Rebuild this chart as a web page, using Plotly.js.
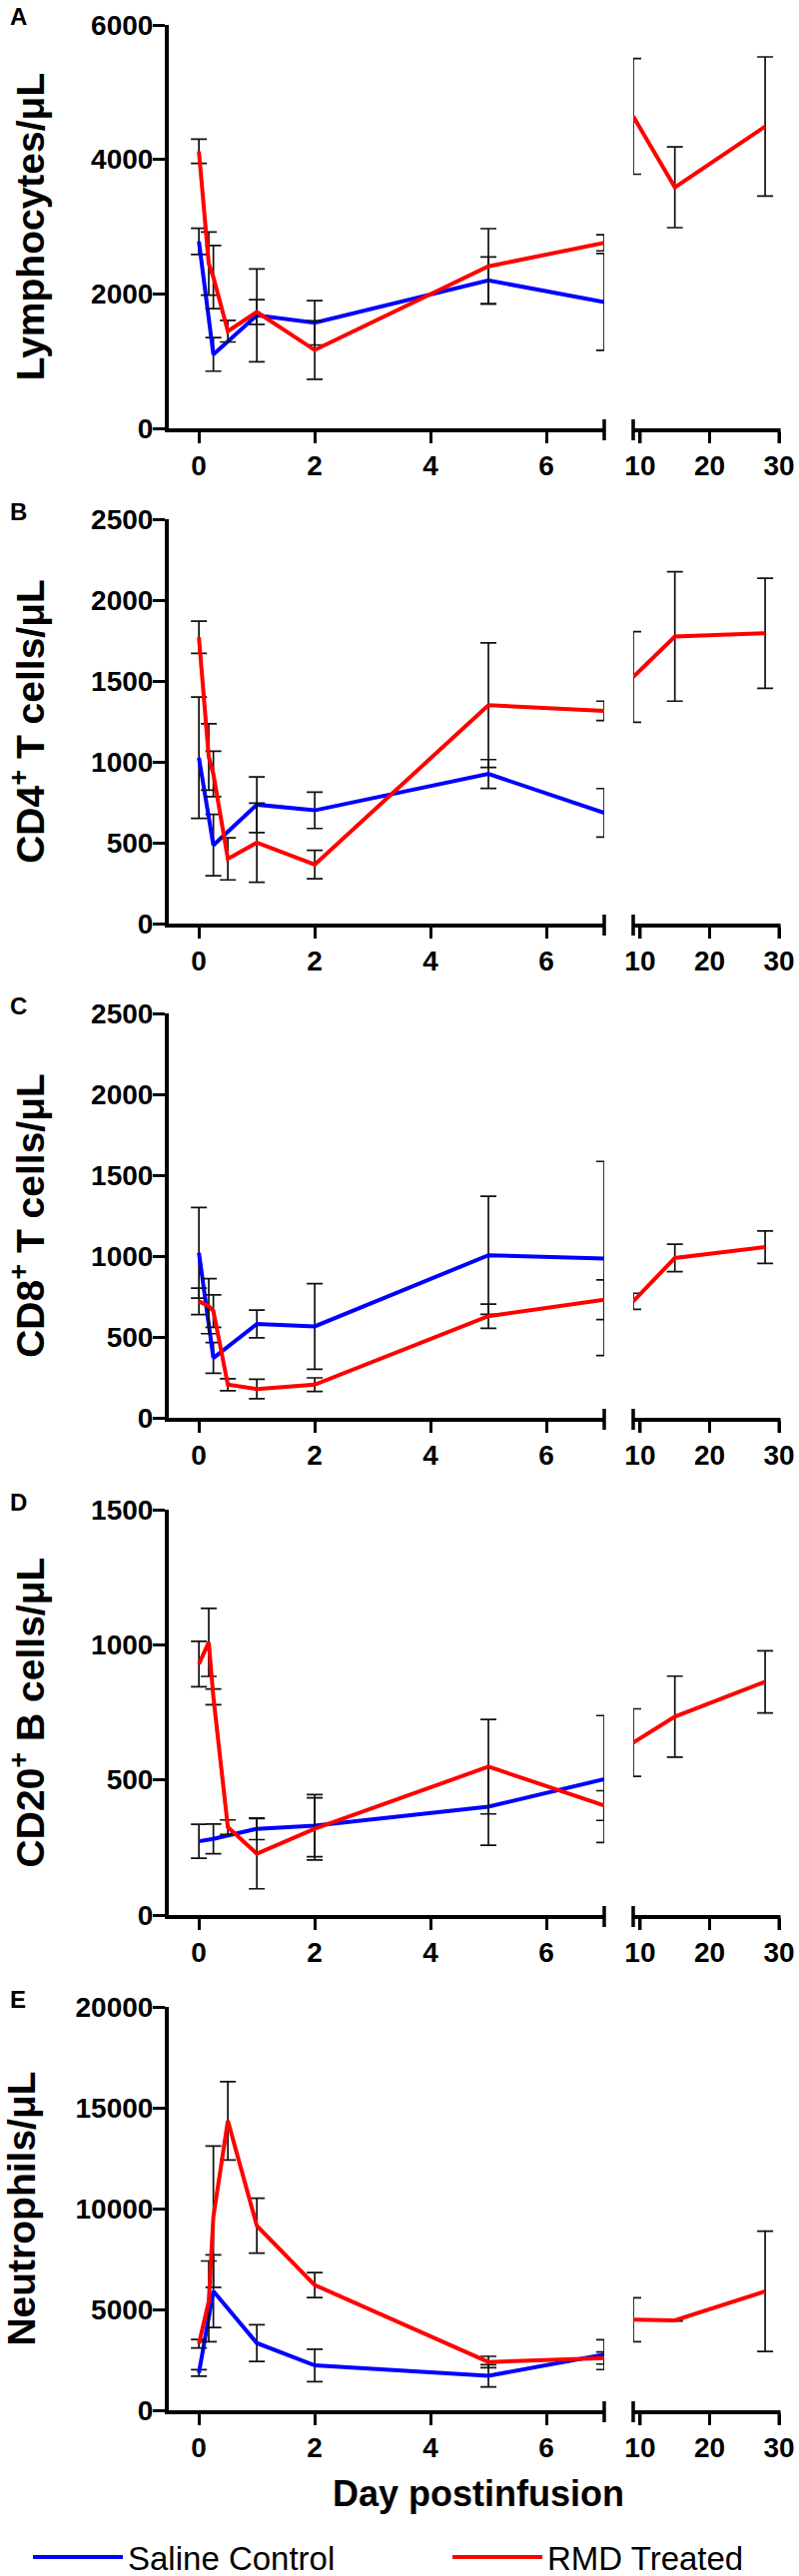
<!DOCTYPE html>
<html>
<head>
<meta charset="utf-8">
<script src="https://cdn.plot.ly/plotly-3.0.1.min.js"></script>
<style>html,body{margin:0;padding:0;background:#fff}</style>
</head>
<body>
<div id="chart" style="width:800px;height:2580px"></div>
<script>
// sampling days (first axis segment 0-7, second segment 9-30)
var daysSaline = [0, 0.25, 1, 2, 5, 7];
var daysRmd = [0, 0.17, 0.25, 0.5, 1, 2, 5, 7];
var daysLate = [9, 15, 28];
var lateTicks = [10, 20, 30];

// A - lymphocytes
var lymphSaline = [2780, 1100, 1680, 1570, 2200, 1880];
var lymphSalineErr = [195, 250, 690, 330, 350, 720];
var lymphRmd = [4120, 2450, 2250, 1445, 1730, 1165, 2410, 2760];
var lymphRmdErr = [180, 470, 470, 160, 185, 435, 560, 120];
var lymphRmdLate = [4640, 3585, 4490];
var lymphRmdLateErr = [860, 600, 1035];

// B - CD4+ T cells
var cd4Saline = [1025, 485, 735, 700, 925, 685];
var cd4SalineErr = [375, 190, 172, 112, 89, 150];
var cd4Rmd = [1770, 1030, 925, 400, 500, 365, 1350, 1315];
var cd4RmdErr = [100, 205, 140, 130, 245, 88, 385, 60];
var cd4RmdLate = [1525, 1775, 1795];
var cd4RmdLateErr = [280, 400, 340];

// C - CD8+ T cells
var cd8Saline = [1020, 370, 580, 565, 1005, 985];
var cd8SalineErr = [280, 95, 86, 265, 365, 600];
var cd8Rmd = [720, 690, 660, 205, 178, 205, 628, 730];
var cd8RmdErr = [82, 170, 100, 37, 60, 42, 75, 123];
var cd8RmdLate = [720, 988, 1055];
var cd8RmdLateErr = [50, 85, 100];

// D - CD20+ B cells
var cd20Saline = [273, 282, 319, 331, 401, 503];
var cd20SalineErr = [63, 55, 40, 115, 143, 235];
var cd20Rmd = [929, 1009, 807, 325, 227, 319, 549, 405];
var cd20RmdErr = [84, 126, 29, 27, 130, 115, 175, 55];
var cd20RmdLate = [638, 734, 863];
var cd20RmdLateErr = [125, 150, 115];

// E - neutrophils
var neutSaline = [1850, 5900, 3330, 2222, 1709, 2757];
var neutSalineErr = [165, 1800, 910, 800, 550, 740];
var neutRmd = [3300, 5400, 9600, 14350, 9150, 6204, 2393, 2590];
var neutRmdErr = [210, 2000, 3500, 1940, 1360, 620, 280, 300];
var neutRmdLate = [4490, 4455, 5896];
var neutRmdLateErr = [1090, 30, 2980];

var panelLetters = ['A', 'B', 'C', 'D', 'E'];
var yTitles = ['Lymphocytes/\u03bcL', 'CD4<sup>+</sup> T cells/\u03bcL', 'CD8<sup>+</sup> T cells/\u03bcL',
               'CD20<sup>+</sup> B cells/\u03bcL', 'Neutrophils/\u03bcL'];
var yMax = [6000, 2500, 2500, 1500, 20000];
var yStep = [2000, 500, 500, 500, 5000];

var salineSeries = [lymphSaline, cd4Saline, cd8Saline, cd20Saline, neutSaline];
var salineErrs = [lymphSalineErr, cd4SalineErr, cd8SalineErr, cd20SalineErr, neutSalineErr];
var rmdSeries = [lymphRmd, cd4Rmd, cd8Rmd, cd20Rmd, neutRmd];
var rmdErrs = [lymphRmdErr, cd4RmdErr, cd8RmdErr, cd20RmdErr, neutRmdErr];
var rmdLateSeries = [lymphRmdLate, cd4RmdLate, cd8RmdLate, cd20RmdLate, neutRmdLate];
var rmdLateErrs = [lymphRmdLateErr, cd4RmdLateErr, cd8RmdLateErr, cd20RmdLateErr, neutRmdLateErr];

var W = 800, H = 2580;
var FONT = 'Liberation Sans, Arial, Helvetica, sans-serif';
var BLUE = '#0000ff';
var RED = '#ff0000';

// pixel layout of the panels
var panelTop = [25, 520, 1015, 1512, 2010];
var panelBottom = [429, 925, 1420, 1918, 2414];
var seg1 = [169, 605];   // days -0.52 .. 7
var seg2 = [634, 780];   // days 9 .. 30
var seg2Range = [9, 30];

function axName(letter, n) { return letter + 'axis' + (n === 1 ? '' : n); }
function axRef(letter, n) { return letter + (n === 1 ? '' : n); }

function errBar(arr)
{
    return {type: 'data', array: arr, visible: true, color: '#111', thickness: 1.7, width: 8};
}

function legendBox(xPx)
{
    return {
        orientation: 'h',
        x: xPx / W,
        xanchor: 'left',
        y: (H - 2561) / H,
        yanchor: 'middle',
        font: {family: FONT, size: 33, color: 'black'},
        itemwidth: 90,
        bgcolor: 'rgba(0,0,0,0)'
    };
}

// filled black box in page pixels, used for axis decoration (break marks, baseline, ticks)
function paperBox(left, top, right, bottom)
{
    return {
        type: 'rect', xref: 'paper', yref: 'paper', layer: 'above',
        x0: left / W, x1: right / W, y0: 1 - bottom / H, y1: 1 - top / H,
        fillcolor: 'black', line: {width: 0}
    };
}

function seg2Px(day)
{
    return seg2[0] + (day - seg2Range[0]) / (seg2Range[1] - seg2Range[0]) * (seg2[1] - seg2[0]);
}

var plotlyData = [];
var plotlyLayout = {
    width: W,
    height: H,
    margin: {l: 0, r: 0, t: 0, b: 0, autoexpand: false},
    paper_bgcolor: 'white',
    plot_bgcolor: 'white',
    font: {family: FONT, color: 'black'},
    showlegend: true,
    legend: legendBox(28),
    legend2: legendBox(448),
    annotations: [],
    shapes: []
};

for(var i = 0; i < 5; i++)
{
    var nx1 = 2 * i + 1;
    var nx2 = 2 * i + 2;
    var ny = i + 1;
    var ydom = [1 - panelBottom[i] / H, 1 - panelTop[i] / H];

    var tickVals = [];
    for(var v = 0; v <= yMax[i]; v += yStep[i]) tickVals.push(v);

    var xCommon = {
        showline: true, linewidth: 4, linecolor: 'black',
        ticks: 'outside', ticklen: 11, tickwidth: 3, tickcolor: 'black',
        showgrid: false, zeroline: false,
        tickfont: {family: FONT, size: 28, color: 'black', weight: 700},
        ticklabelstandoff: -2,
        anchor: axRef('y', ny),
        fixedrange: true
    };

    plotlyLayout[axName('x', nx1)] = Object.assign({}, xCommon, {
        domain: [seg1[0] / W, seg1[1] / W],
        range: [-0.52, 7],
        tickvals: [0, 2, 4, 6]
    });
    plotlyLayout[axName('x', nx2)] = Object.assign({}, xCommon, {
        domain: [seg2[0] / W, seg2[1] / W],
        range: seg2Range,
        tickvals: lateTicks
    });
    plotlyLayout[axName('y', ny)] = {
        domain: ydom,
        range: [0, yMax[i]],
        anchor: axRef('x', nx1),
        showline: true, linewidth: 4, linecolor: 'black',
        ticks: 'outside', ticklen: 12, tickwidth: 3, tickcolor: 'black',
        tickvals: tickVals,
        tickformat: 'd',
        ticklabelstandoff: -6,
        showgrid: false, zeroline: false,
        tickfont: {family: FONT, size: 28, color: 'black', weight: 700},
        title: {text: yTitles[i], font: {family: FONT, size: 39, color: 'black', weight: 700}, standoff: 35},
        fixedrange: true
    };

    var xr1 = axRef('x', nx1), xr2 = axRef('x', nx2), yr = axRef('y', ny);
    var base = panelBottom[i];
    // axis break marks
    plotlyLayout.shapes.push(paperBox(seg1[1] - 1.75, base - 9, seg1[1] + 1.75, base + 12));
    plotlyLayout.shapes.push(paperBox(seg2[0] - 1.75, base - 9, seg2[0] + 1.75, base + 12));
    // second segment baseline and its ticks
    plotlyLayout.shapes.push(paperBox(seg2[0], base, seg2[1] + 1.5, base + 4));
    for(var t = 0; t < lateTicks.length; t++)
    {
        var tx = seg2Px(lateTicks[t]);
        plotlyLayout.shapes.push(paperBox(tx - 1.5, base + 2, tx + 1.5, base + 15));
    }

    // panel letter
    plotlyLayout.annotations.push({
        text: panelLetters[i], xref: 'paper', yref: 'paper',
        x: 18 / W, y: 1 - (panelTop[i] - 8) / H,
        xanchor: 'center', yanchor: 'middle', showarrow: false,
        font: {family: FONT, size: 24, color: 'black', weight: 700}
    });

    plotlyData.push({
        x: daysSaline, y: salineSeries[i],
        xaxis: xr1, yaxis: yr,
        type: 'scatter', mode: 'lines', name: 'Saline Control',
        legend: 'legend', showlegend: i === 0,
        line: {color: BLUE, width: 4},
        error_y: errBar(salineErrs[i]),
        cliponaxis: false
    });
    plotlyData.push({
        x: daysRmd, y: rmdSeries[i],
        xaxis: xr1, yaxis: yr,
        type: 'scatter', mode: 'lines', name: 'RMD Treated',
        legend: 'legend2', showlegend: i === 0,
        line: {color: RED, width: 4},
        error_y: errBar(rmdErrs[i]),
        cliponaxis: false
    });
    plotlyData.push({
        x: daysLate, y: rmdLateSeries[i],
        xaxis: xr2, yaxis: yr,
        type: 'scatter', mode: 'lines', name: 'RMD Treated',
        legend: 'legend2', showlegend: false,
        line: {color: RED, width: 4},
        error_y: errBar(rmdLateErrs[i]),
        cliponaxis: false
    });
}

plotlyLayout.annotations.push({
    text: 'Day postinfusion', xref: 'paper', yref: 'paper',
    x: 479 / W, y: (H - 2497) / H,
    xanchor: 'center', yanchor: 'middle', showarrow: false,
    font: {family: FONT, size: 36, color: 'black', weight: 700}
});

var plotlyConfig = {displayModeBar: false, staticPlot: true};

Plotly.newPlot('chart', plotlyData, plotlyLayout, plotlyConfig);
</script>
</body>
</html>
